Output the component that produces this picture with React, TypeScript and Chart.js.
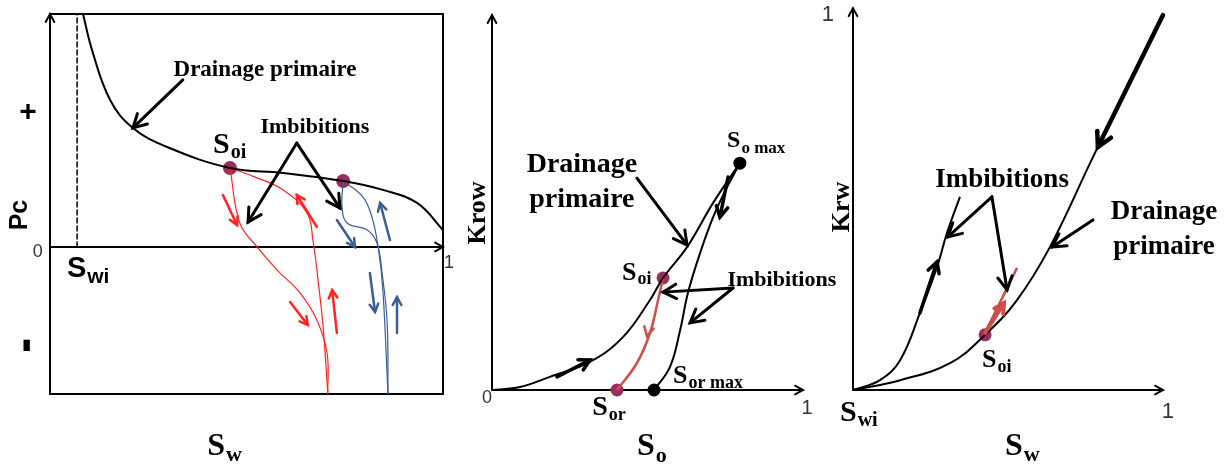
import React, { useEffect, useRef } from "react";
import { Chart, registerables } from "chart.js";

Chart.register(...registerables);

const SERIF = '"Liberation Serif", "Times New Roman", serif';
const SANS = '"Liberation Sans", Arial, sans-serif';

// ---------------- Panel 1 : Pc (Sw) ----------------
const pcDrainageSw = [0.084, 0.107, 0.153, 0.211, 0.298, 0.458, 0.593, 0.746, 0.847, 0.934, 1.0];
const pcDrainagePc = [1.0, 0.845, 0.631, 0.511, 0.429, 0.339, 0.318, 0.283, 0.245, 0.189, 0.073];
const pcRedASw = [0.458, 0.483, 0.527, 0.578, 0.636, 0.679, 0.705, 0.707];
const pcRedAPc = [0.339, 0.103, 0.0, -0.099, -0.197, -0.313, -0.455, -0.631];
const pcRedBSw = [0.458, 0.522, 0.593, 0.654, 0.669, 0.682, 0.695, 0.707];
const pcRedBPc = [0.339, 0.3, 0.245, 0.146, 0.03, -0.142, -0.343, -0.631];
const pcBlueASw = [0.746, 0.743, 0.756, 0.807, 0.832, 0.845, 0.858, 0.86];
const pcBlueAPc = [0.283, 0.172, 0.103, 0.073, 0.017, -0.112, -0.326, -0.631];
const pcBlueBSw = [0.746, 0.796, 0.819, 0.835, 0.847, 0.86];
const pcBlueBPc = [0.283, 0.215, 0.129, 0.0, -0.185, -0.631];
const pcTurnSw = [0.458, 0.746];
const pcTurnPc = [0.339, 0.283];
const pcSwi = 0.069;
const pcMin = -0.631;

// ---------------- Panel 2 : Krow (So) ----------------
const krowDrainageSo = [0, 0.09, 0.186, 0.315, 0.421, 0.508, 0.55, 0.627, 0.711, 0.797];
const krowDrainageK = [0, 0.008, 0.035, 0.075, 0.141, 0.24, 0.299, 0.381, 0.499, 0.605];
const krowImbSo = [0.797, 0.756, 0.711, 0.669, 0.63, 0.605, 0.572, 0.521];
const krowImbK = [0.605, 0.541, 0.461, 0.365, 0.259, 0.16, 0.061, 0.0];
const krowRedSo = [0.55, 0.534, 0.508, 0.466, 0.402];
const krowRedK = [0.299, 0.24, 0.152, 0.072, 0.0];
const krowBlackDotSo = [0.797, 0.521];
const krowBlackDotK = [0.605, 0.0];
const krowPinkDotSo = [0.55, 0.402];
const krowPinkDotK = [0.299, 0.0];

// ---------------- Panel 3 : Krw (Sw) ----------------
const krwDrainageSw = [0, 0.152, 0.313, 0.426, 0.529, 0.635, 0.774, 0.903, 1.0];
const krwDrainageK = [0, 0.026, 0.071, 0.146, 0.238, 0.378, 0.616, 0.831, 0.992];
const krwImbSw = [0, 0.087, 0.152, 0.216, 0.271, 0.303, 0.345];
const krwImbK = [0, 0.026, 0.079, 0.204, 0.325, 0.415, 0.511];
const krwRedSw = [0.426, 0.529];
const krwRedK = [0.151, 0.323];
const krwDotSw = [0.426];
const krwDotK = [0.146];

const BLACK = "#000000";
const RED = "#ff2424";
const BLUE = "#3a5f92";
const DOT = "#9a2e5f";
const BRICK = "#cc4f4a";

type Pt = { x: number; y: number };
const zip = (xs: number[], ys: number[]): Pt[] => xs.map((x, i) => ({ x, y: ys[i] }));

function curve(data: Pt[], color: string, width: number) {
  return {
    data,
    showLine: true,
    borderColor: color,
    borderWidth: width,
    pointRadius: 0,
    tension: 0.4,
    fill: false,
    clip: false,
  };
}
function dots(data: Pt[], color: string, r: number) {
  return {
    data,
    showLine: false,
    pointRadius: r,
    pointBackgroundColor: color,
    pointBorderColor: color,
    pointBorderWidth: 0,
    clip: false,
  };
}

type Ctx = CanvasRenderingContext2D;

function seg(ctx: Ctx, x1: number, y1: number, x2: number, y2: number, color: string, w: number, dash?: number[]) {
  ctx.save();
  ctx.strokeStyle = color;
  ctx.lineWidth = w;
  ctx.lineCap = "round";
  if (dash) ctx.setLineDash(dash);
  ctx.beginPath();
  ctx.moveTo(x1, y1);
  ctx.lineTo(x2, y2);
  ctx.stroke();
  ctx.restore();
}
function head(ctx: Ctx, x1: number, y1: number, x2: number, y2: number, len: number, color: string, w: number, ang = 0.5) {
  const a = Math.atan2(y2 - y1, x2 - x1);
  ctx.save();
  ctx.strokeStyle = color;
  ctx.lineWidth = w;
  ctx.lineCap = "round";
  ctx.lineJoin = "miter";
  ctx.beginPath();
  ctx.moveTo(x2 - len * Math.cos(a - ang), y2 - len * Math.sin(a - ang));
  ctx.lineTo(x2, y2);
  ctx.lineTo(x2 - len * Math.cos(a + ang), y2 - len * Math.sin(a + ang));
  ctx.stroke();
  ctx.restore();
}
function arrow(ctx: Ctx, x1: number, y1: number, x2: number, y2: number, color: string, w: number, len: number) {
  seg(ctx, x1, y1, x2, y2, color, w);
  head(ctx, x1, y1, x2, y2, len, color, w);
}
function text(ctx: Ctx, s: string, x: number, y: number, font: string, color = BLACK, align: CanvasTextAlign = "center", base: CanvasTextBaseline = "middle", rot = 0) {
  ctx.save();
  ctx.font = font;
  ctx.fillStyle = color;
  ctx.textAlign = align;
  ctx.textBaseline = base;
  ctx.translate(x, y);
  if (rot) ctx.rotate(rot);
  ctx.fillText(s, 0, 0);
  ctx.restore();
}
function subText(ctx: Ctx, x: number, y: number, main: string, sub: string, mainFont: string, subFont: string, dy: number, gap = 1) {
  ctx.save();
  ctx.fillStyle = BLACK;
  ctx.textAlign = "left";
  ctx.textBaseline = "alphabetic";
  ctx.font = mainFont;
  ctx.fillText(main, x, y);
  const w = ctx.measureText(main).width;
  ctx.font = subFont;
  ctx.fillText(sub, x + w + gap, y + dy);
  ctx.restore();
}

function makeChart(canvas: HTMLCanvasElement, datasets: any[], xr: [number, number], yr: [number, number], pad: any, draw: (ctx: Ctx, X: (v: number) => number, Y: (v: number) => number) => void, before: (ctx: Ctx, X: (v: number) => number, Y: (v: number) => number) => void) {
  const plugin = {
    id: "schema",
    beforeDatasetsDraw(chart: any) {
      const X = (v: number) => chart.scales.x.getPixelForValue(v);
      const Y = (v: number) => chart.scales.y.getPixelForValue(v);
      before(chart.ctx, X, Y);
    },
    afterDatasetsDraw(chart: any) {
      const X = (v: number) => chart.scales.x.getPixelForValue(v);
      const Y = (v: number) => chart.scales.y.getPixelForValue(v);
      draw(chart.ctx, X, Y);
    },
  };
  return new Chart(canvas, {
    type: "scatter",
    data: { datasets },
    options: {
      responsive: false,
      animation: false,
      layout: { padding: pad },
      scales: {
        x: { type: "linear", min: xr[0], max: xr[1], display: false },
        y: { type: "linear", min: yr[0], max: yr[1], display: false },
      },
      plugins: { legend: { display: false }, tooltip: { enabled: false } },
      events: [],
    } as any,
    plugins: [plugin],
  });
}

function panel1(canvas: HTMLCanvasElement) {
  const ds = [
    curve(zip(pcDrainageSw, pcDrainagePc), BLACK, 2),
    curve(zip(pcRedASw, pcRedAPc), RED, 1.2),
    curve(zip(pcRedBSw, pcRedBPc), RED, 1.2),
    curve(zip(pcBlueASw, pcBlueAPc), BLUE, 1.2),
    curve(zip(pcBlueBSw, pcBlueBPc), BLUE, 1.2),
    dots(zip(pcTurnSw, pcTurnPc), DOT, 7),
  ];
  return makeChart(
    canvas,
    ds,
    [0, 1],
    [pcMin, 1],
    { left: 50, right: 789, top: 14, bottom: 72 },
    (ctx, X, Y) => {
      // annotation arrows
      arrow(ctx, X(0.338), Y(0.717), X(0.211), Y(0.511), BLACK, 3, 15);
      arrow(ctx, X(0.628), Y(0.446), X(0.504), Y(0.107), BLACK, 3, 15);
      arrow(ctx, X(0.628), Y(0.446), X(0.738), Y(0.167), BLACK, 3, 15);
      // red direction arrows
      arrow(ctx, X(0.44), Y(0.223), X(0.476), Y(0.094), RED, 2.5, 9);
      arrow(ctx, X(0.679), Y(0.086), X(0.628), Y(0.223), RED, 2.5, 9);
      arrow(ctx, X(0.611), Y(-0.236), X(0.656), Y(-0.335), RED, 2.5, 9);
      arrow(ctx, X(0.73), Y(-0.369), X(0.718), Y(-0.185), RED, 2.5, 9);
      // blue direction arrows
      arrow(ctx, X(0.73), Y(0.116), X(0.776), Y(0.0), BLUE, 2.5, 9);
      arrow(ctx, X(0.865), Y(0.03), X(0.84), Y(0.189), BLUE, 2.5, 9);
      arrow(ctx, X(0.814), Y(-0.112), X(0.827), Y(-0.279), BLUE, 2.5, 9);
      arrow(ctx, X(0.883), Y(-0.369), X(0.883), Y(-0.215), BLUE, 2.5, 9);
      // labels
      text(ctx, "Drainage primaire", X(0.547), Y(0.76), `bold 23px ${SERIF}`);
      text(ctx, "Imbibitions", X(0.674), Y(0.515), `bold 22px ${SERIF}`);
      subText(ctx, X(0.415), Y(0.403), "S", "oi", `bold 30px ${SERIF}`, `bold 20px ${SERIF}`, 5);
      text(ctx, "Pc", X(-0.076), Y(0.137), `bold 25px ${SANS}`, BLACK, "center", "middle", -Math.PI / 2);
      text(ctx, "+", X(-0.056), Y(0.575), `bold 30px ${SANS}`);
      ctx.save();
      ctx.translate(X(-0.059), Y(-0.416));
      ctx.scale(0.9, 3.4);
      text(ctx, "-", 0, 0, `bold 28px ${SANS}`);
      ctx.restore();
      text(ctx, "0", X(-0.031), Y(-0.021), `18px ${SANS}`, "#333");
      text(ctx, "1", X(1.015), Y(-0.069), `18px ${SANS}`, "#333");
      subText(ctx, X(0.043), Y(-0.129), "S", "wi", `bold 29px ${SANS}`, `bold 21px ${SANS}`, 6);
      subText(ctx, X(0.4), Y(-0.893), "S", "w", `bold 32px ${SERIF}`, `bold 22px ${SERIF}`, 6);
    },
    (ctx, X, Y) => {
      // frame
      seg(ctx, X(0), Y(1), X(1), Y(1), BLACK, 2);
      seg(ctx, X(1), Y(1), X(1), Y(pcMin), BLACK, 2);
      seg(ctx, X(0), Y(pcMin), X(1), Y(pcMin), BLACK, 2);
      arrow(ctx, X(0), Y(pcMin), X(0), Y(1), BLACK, 2, 9);
      arrow(ctx, X(0), Y(0), X(1), Y(0), BLACK, 2, 9);
      seg(ctx, X(pcSwi), Y(0), X(pcSwi), Y(1), BLACK, 1.5, [5, 3]);
    }
  );
}

function panel2(canvas: HTMLCanvasElement) {
  const ds = [
    curve(zip(krowDrainageSo, krowDrainageK), BLACK, 2),
    curve(zip(krowImbSo, krowImbK), BLACK, 2),
    curve(zip(krowRedSo, krowRedK), BRICK, 2.5),
    dots(zip(krowBlackDotSo, krowBlackDotK), BLACK, 6.5),
    dots(zip(krowPinkDotSo, krowPinkDotK), DOT, 6.5),
  ];
  return makeChart(
    canvas,
    ds,
    [0, 1],
    [0, 1],
    { left: 492, right: 429, top: 15, bottom: 76 },
    (ctx, X, Y) => {
      arrow(ctx, X(0.466), Y(0.565), X(0.627), Y(0.387), BLACK, 3, 15);
      arrow(ctx, X(0.775), Y(0.272), X(0.55), Y(0.261), BLACK, 3, 15);
      arrow(ctx, X(0.775), Y(0.272), X(0.637), Y(0.179), BLACK, 3, 15);
      arrow(ctx, X(0.209), Y(0.035), X(0.315), Y(0.08), BLACK, 3.5, 12);
      arrow(ctx, X(0.759), Y(0.568), X(0.733), Y(0.461), BLACK, 3.5, 12);
      head(ctx, X(0.511), Y(0.187), X(0.498), Y(0.144), 10, BRICK, 2.5);
      text(ctx, "Drainage", X(0.289), Y(0.6), `bold 28px ${SERIF}`);
      text(ctx, "primaire", X(0.289), Y(0.507), `bold 28px ${SERIF}`);
      text(ctx, "Imbibitions", X(0.932), Y(0.293), `bold 22px ${SERIF}`);
      subText(ctx, X(0.756), Y(0.648), "S", "o max", `bold 24px ${SERIF}`, `bold 17px ${SERIF}`, 6);
      subText(ctx, X(0.418), Y(0.293), "S", "oi", `bold 26px ${SERIF}`, `bold 18px ${SERIF}`, 4);
      subText(ctx, X(0.582), Y(0.019), "S", "or max", `bold 26px ${SERIF}`, `bold 18px ${SERIF}`, 5);
      subText(ctx, X(0.322), Y(-0.067), "S", "or", `bold 28px ${SERIF}`, `bold 18px ${SERIF}`, 5);
      subText(ctx, X(0.466), Y(-0.173), "S", "o", `bold 32px ${SERIF}`, `bold 22px ${SERIF}`, 7);
      text(ctx, "Krow", X(-0.045), Y(0.472), `bold 26px ${SERIF}`, BLACK, "center", "middle", -Math.PI / 2);
      text(ctx, "0", X(-0.016), Y(-0.021), `18px ${SANS}`, "#333");
      text(ctx, "1", X(1.013), Y(-0.048), `20px ${SANS}`, "#333");
    },
    (ctx, X, Y) => {
      arrow(ctx, X(0), Y(0), X(0), Y(1), BLACK, 2, 9);
      arrow(ctx, X(0), Y(0), X(1), Y(0), BLACK, 2, 9);
    }
  );
}

function panel3(canvas: HTMLCanvasElement) {
  const ds = [
    curve(zip(krwDrainageSw, krwDrainageK), BLACK, 2),
    curve(zip(krwImbSw, krwImbK), BLACK, 2),
    curve(zip(krwRedSw, krwRedK), BRICK, 2.5),
    dots(zip(krwDotSw, krwDotK), DOT, 6.5),
  ];
  return makeChart(
    canvas,
    ds,
    [0, 1],
    [0, 1],
    { left: 853, right: 69, top: 12, bottom: 76 },
    (ctx, X, Y) => {
      arrow(ctx, X(1.0), Y(0.992), X(0.79), Y(0.643), BLACK, 4.5, 16);
      arrow(ctx, X(0.216), Y(0.204), X(0.271), Y(0.339), BLACK, 3.5, 12);
      arrow(ctx, X(0.448), Y(0.511), X(0.306), Y(0.405), BLACK, 3, 15);
      arrow(ctx, X(0.448), Y(0.511), X(0.497), Y(0.265), BLACK, 3, 15);
      arrow(ctx, X(0.774), Y(0.45), X(0.642), Y(0.378), BLACK, 3, 15);
      arrow(ctx, X(0.426), Y(0.151), X(0.487), Y(0.23), BRICK, 4, 11);
      text(ctx, "Imbibitions", X(0.481), Y(0.556), `bold 27px ${SERIF}`);
      text(ctx, "Drainage", X(1.003), Y(0.471), `bold 27px ${SERIF}`);
      text(ctx, "primaire", X(1.003), Y(0.378), `bold 27px ${SERIF}`);
      subText(ctx, X(0.416), Y(0.061), "S", "oi", `bold 26px ${SERIF}`, `bold 18px ${SERIF}`, 5);
      subText(ctx, X(-0.042), Y(-0.082), "S", "wi", `bold 30px ${SERIF}`, `bold 20px ${SERIF}`, 5);
      subText(ctx, X(0.49), Y(-0.172), "S", "w", `bold 32px ${SERIF}`, `bold 22px ${SERIF}`, 6);
      text(ctx, "Krw", X(-0.035), Y(0.484), `bold 26px ${SERIF}`, BLACK, "center", "middle", -Math.PI / 2);
      text(ctx, "1", X(-0.081), Y(0.992), `22px ${SANS}`, "#333");
      text(ctx, "1", X(1.016), Y(-0.058), `22px ${SANS}`, "#333");
    },
    (ctx, X, Y) => {
      arrow(ctx, X(0), Y(0), X(0), Y(1.01), BLACK, 2, 9);
      arrow(ctx, X(0), Y(0), X(1), Y(0), BLACK, 2, 9);
    }
  );
}

export default function App() {
  const r1 = useRef<HTMLCanvasElement>(null);
  const r2 = useRef<HTMLCanvasElement>(null);
  const r3 = useRef<HTMLCanvasElement>(null);
  useEffect(() => {
    const charts = [panel1(r1.current!), panel2(r2.current!), panel3(r3.current!)];
    return () => charts.forEach((c) => c.destroy());
  }, []);
  const cs: React.CSSProperties = { position: "absolute", left: 0, top: 0, width: 1232, height: 466 };
  return (
    <div style={{ position: "fixed", left: 0, top: 0, width: 1232, height: 466, background: "#ffffff" }}>
      <canvas ref={r1} width={1232} height={466} style={cs} />
      <canvas ref={r2} width={1232} height={466} style={cs} />
      <canvas ref={r3} width={1232} height={466} style={cs} />
    </div>
  );
}
